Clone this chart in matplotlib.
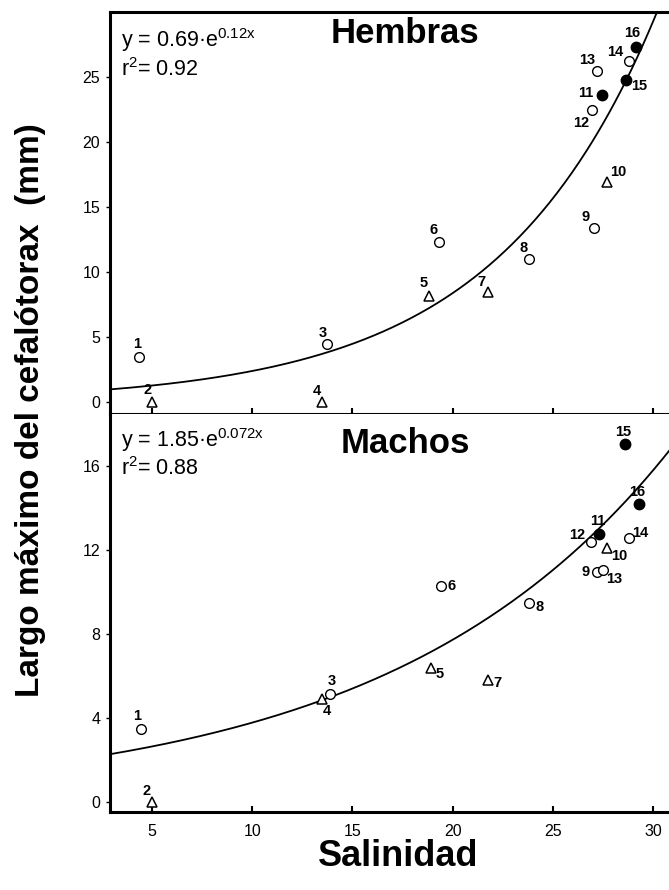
import numpy as np
import matplotlib
matplotlib.use("Agg")
import matplotlib.pyplot as plt

plt.rcParams['font.family'] = ['Liberation Sans', 'DejaVu Sans']
plt.rcParams['mathtext.fontset'] = 'custom'
plt.rcParams['mathtext.rm'] = 'Liberation Sans'
plt.rcParams['mathtext.it'] = 'Liberation Sans:italic'
plt.rcParams['mathtext.bf'] = 'Liberation Sans:bold'

# ---- data ----
site_ids = list(range(1, 17))
# o = open circle, ^ = open triangle, f = filled circle
site_kind = ['o', '^', 'o', '^', '^', 'o', '^', 'o', 'o', '^', 'f', 'o', 'o', 'o', 'f', 'f']

hembras_sal = [4.35, 5.0, 13.75, 13.5, 18.8, 19.3, 21.75, 23.8, 27.05, 27.7,
               27.45, 26.95, 27.2, 28.8, 28.65, 29.15]
hembras_len = [3.5, 0.0, 4.5, 0.0, 8.15, 12.3, 8.5, 11.0, 13.4, 16.9,
               23.6, 22.5, 25.5, 26.2, 24.8, 27.3]

machos_sal = [4.45, 5.0, 13.9, 13.5, 18.9, 19.4, 21.75, 23.8, 27.2, 27.7,
              27.3, 26.9, 27.5, 28.8, 28.6, 29.3]
machos_len = [3.5, 0.0, 5.15, 4.9, 6.4, 10.3, 5.8, 9.5, 10.95, 12.1,
              12.8, 12.4, 11.05, 12.6, 17.05, 14.2]

# exponential fits y = a * exp(b * x)
hembras_fit = (0.69, 0.1249)
hembras_r2 = 0.92
machos_fit = (1.85, 0.07151)
machos_r2 = 0.88

# ---- label offsets (pixels: right, up) ----
hembras_off = [(-2, 13), (-5, 12), (-5, 11), (-6, 11), (-5, 13), (-5, 12), (-6, 10),
               (-5, 11), (-8, 11), (11, 10), (-16, 2), (-11, -13), (-10, 11),
               (-14, 9), (13, -6), (-4, 14)]
machos_off = [(-4, 13), (-6, 11), (1, 13), (4, -12), (9, -6), (11, 0), (10, -3),
              (11, -4), (-11, 0), (12, -8), (-1, 13), (-14, 7), (11, -9),
              (11, 5), (-2, 12), (-2, 12)]

W, H = 669, 890
fig = plt.figure(figsize=(W / 100, H / 100), dpi=100)

left = 110 / W
width = 1.0 - left
ax_top = fig.add_axes([left, 1 - 414 / H, width, (414 - 12) / H])
ax_bot = fig.add_axes([left, 1 - 812 / H, width, (812 - 414) / H])

XLIM = (2.9, 30.8)


def draw_panel(ax, sal, lng, offs, fit, r2, title, ylim, yticks, eq_y, title_y,
               bexp_fmt, show_xlabels):
    a, b = fit
    xs = np.linspace(XLIM[0], XLIM[1], 300)
    ax.plot(xs, a * np.exp(b * xs), color='black', lw=1.3, zorder=2)
    for x, y, k, i, (dx, dy) in zip(sal, lng, site_kind, site_ids, offs):
        if k == 'f':
            ax.plot(x, y, 'o', ms=7.5, mfc='black', mec='black', mew=1.0, zorder=3)
        elif k == 'o':
            ax.plot(x, y, 'o', ms=7, mfc='white', mec='black', mew=1.0, zorder=3)
        else:
            ax.plot(x, y, '^', ms=7.5, mfc='white', mec='black', mew=1.1, zorder=3)
        ax.annotate(str(i), (x, y), xytext=(dx * 0.72, dy * 0.72),
                    textcoords='offset points', ha='center', va='center',
                    fontsize=10.5, fontweight='bold', zorder=4)
    ax.set_xlim(*XLIM)
    ax.set_ylim(*ylim)
    ax.set_yticks(yticks)
    ax.set_xticks([5, 10, 15, 20, 25, 30])
    ax.tick_params(axis='x', direction='in', length=4, width=1.5,
                   labelsize=11.5, pad=9, labelbottom=show_xlabels)
    ax.tick_params(axis='y', direction='out', length=3, width=1.0,
                   labelsize=11.5, pad=4)
    for s in ['left', 'bottom', 'top']:
        ax.spines[s].set_linewidth(2.2)
    ax.spines['right'].set_visible(False)
    eq = 'y = %.2f\u00b7e$^{\\mathrm{%sx}}$' % (a, bexp_fmt % b)
    ax.text(0.02, eq_y[0], eq, transform=ax.transAxes, fontsize=15.5, va='baseline')
    ax.text(0.02, eq_y[1], 'r$^{\\mathrm{2}}$= %.2f' % r2, transform=ax.transAxes,
            fontsize=15.5, va='baseline')
    ax.text(0.528, title_y, title, transform=ax.transAxes, fontsize=25,
            fontweight='bold', ha='center', va='baseline')


draw_panel(ax_top, hembras_sal, hembras_len, hembras_off, hembras_fit, hembras_r2,
           'Hembras', (-0.9, 30.0), [0, 5, 10, 15, 20, 25], (0.913, 0.842), 0.922,
           '%.2f', False)
draw_panel(ax_bot, machos_sal, machos_len, machos_off, machos_fit, machos_r2,
           'Machos', (-0.48, 18.5), [0, 4, 8, 12, 16], (0.917, 0.846), 0.903,
           '%.3f', True)
ax_bot.spines['top'].set_visible(False)

fig.text(31 / W, 1 - 410 / H, 'Largo máximo del cefalótorax  (mm)', rotation=90,
         ha='center', va='center', fontsize=24, fontweight='bold')
fig.text(398 / W, 1 - 856 / H, 'Salinidad', ha='center', va='center',
         fontsize=26, fontweight='bold')

fig.savefig('out.png', dpi=100)
